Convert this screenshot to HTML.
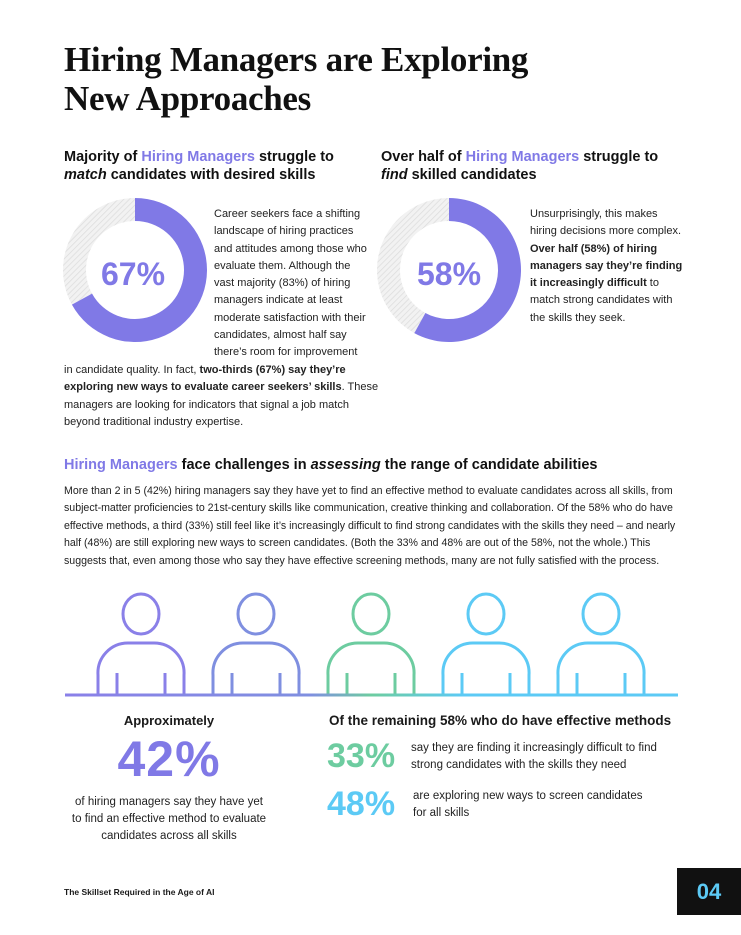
<!DOCTYPE html>
<html><head><meta charset="utf-8">
<style>
*{margin:0;padding:0;box-sizing:border-box}
body{width:741px;height:935px;background:#fff;font-family:"Liberation Sans",sans-serif;color:#1a1a1a;position:relative;overflow:hidden}
.abs{position:absolute}
h1{position:absolute;left:64px;top:40px;font-family:"Liberation Serif",serif;font-size:35px;line-height:39px;font-weight:bold;color:#111;letter-spacing:-0.3px}
h2{position:absolute;font-size:14.5px;line-height:18px;font-weight:bold;color:#111}
.p{color:#8079e6}
.t{font-size:11px;line-height:17.3px;color:#222}
.nw{white-space:nowrap}
.big{font-weight:bold;font-family:"Liberation Sans",sans-serif}
</style></head><body>
<h1>Hiring Managers are Exploring<br>New Approaches</h1>

<h2 style="left:64px;top:148px">Majority of <span class="p">Hiring Managers</span> struggle to<br><i>match</i> candidates with desired skills</h2>
<h2 style="left:381px;top:148px">Over half of <span class="p">Hiring Managers</span> struggle to<br><i>find</i> skilled candidates</h2>

<svg class="abs" style="left:0;top:0" width="741" height="935">
<defs><pattern id="hatch" width="4" height="4" patternUnits="userSpaceOnUse" patternTransform="rotate(45)"><rect width="4" height="4" fill="#f2f2f2"/><line x1="0" y1="0" x2="0" y2="4" stroke="#dcdcdc" stroke-width="1.5"/></pattern></defs>
<g id="d1"></g><g id="d2"></g>
<text x="133" y="285" text-anchor="middle" font-family="Liberation Sans" font-weight="bold" font-size="32" fill="#8079e6">67%</text>
<text x="449" y="285" text-anchor="middle" font-family="Liberation Sans" font-weight="bold" font-size="32" fill="#8079e6">58%</text>
</svg>

<div class="abs t nw" style="left:214px;top:206px">Career seekers face a shifting<br>landscape of hiring practices<br>and attitudes among those who<br>evaluate them. Although the<br>vast majority (83%) of hiring<br>managers indicate at least<br>moderate satisfaction with their<br>candidates, almost half say<br>there’s room for improvement</div>
<div class="abs t nw" style="left:64px;top:362px">in candidate quality. In fact, <b>two-thirds (67%) say they’re</b><br><b>exploring new ways to evaluate career seekers’ skills</b>. These<br>managers are looking for indicators that signal a job match<br>beyond traditional industry expertise.</div>
<div class="abs t nw" style="left:530px;top:206px">Unsurprisingly, this makes<br>hiring decisions more complex.<br><b>Over half (58%) of hiring</b><br><b>managers say they’re finding</b><br><b>it increasingly difficult</b> to<br>match strong candidates with<br>the skills they seek.</div>

<h2 style="left:64px;top:456px"><span class="p">Hiring Managers</span> face challenges in <i>assessing</i> the range of candidate abilities</h2>
<div class="abs t" style="left:64px;top:483px;width:625px;line-height:17.4px;font-size:10.6px">More than 2 in 5 (42%) hiring managers say they have yet to find an effective method to evaluate candidates across all skills, from subject-matter proficiencies to 21st-century skills like communication, creative thinking and collaboration. Of the 58% who do have effective methods, a third (33%) still feel like it’s increasingly difficult to find strong candidates with the skills they need – and nearly half (48%) are still exploring new ways to screen candidates. (Both the 33% and 48% are out of the 58%, not the whole.) This suggests that, even among those who say they have effective screening methods, many are not fully satisfied with the process.</div>

<svg class="abs" style="left:0;top:585px" width="741" height="120">
<defs><linearGradient id="bl" gradientUnits="userSpaceOnUse" x1="65" y1="0" x2="678" y2="0"><stop offset="0" stop-color="#8a80e8"/><stop offset="0.4" stop-color="#7f8fe0"/><stop offset="0.5" stop-color="#6dcca0"/><stop offset="0.65" stop-color="#5ccaf5"/><stop offset="1" stop-color="#5ccaf5"/></linearGradient></defs>
<g id="people"></g>
<rect x="65" y="108.5" width="613" height="3" fill="url(#bl)"/>
</svg>

<div class="abs" style="left:64px;top:713px;width:210px;text-align:center;font-weight:bold;font-size:13px">Approximately</div>
<div class="abs big" style="left:64px;top:730px;width:210px;text-align:center;font-size:50px;color:#8079e6;letter-spacing:1px">42%</div>
<div class="abs t nw" style="left:59px;top:794px;width:220px;text-align:center;line-height:17px;font-size:11.5px">of hiring managers say they have yet<br>to find an effective method to evaluate<br>candidates across all skills</div>

<div class="abs" style="left:329px;top:713px;font-weight:bold;font-size:13.5px">Of the remaining 58% who do have effective methods</div>
<div class="abs big" style="left:327px;top:737px;font-size:34px;color:#6dcca0">33%</div>
<div class="abs t nw" style="left:411px;top:740px;font-size:11.5px">say they are finding it increasingly difficult to find<br>strong candidates with the skills they need</div>
<div class="abs big" style="left:327px;top:785px;font-size:34px;color:#5ccaf5">48%</div>
<div class="abs t nw" style="left:413px;top:788px;font-size:11.5px">are exploring new ways to screen candidates<br>for all skills</div>

<div class="abs" style="left:64px;top:887px;font-size:8.5px;font-weight:bold">The Skillset Required in the Age of AI</div>
<div class="abs" style="left:677px;top:868px;width:64px;height:47px;background:#111;color:#5ccaf5;font-weight:bold;font-size:22px;text-align:center;line-height:47px">04</div>

<script>
const donutLabels=["67%","58%"];
const donutValues=[67,58];
const donutCenters=[[135,270],[449,270]];
const NS="http://www.w3.org/2000/svg";
function arc(cx,cy,ro,ri,a0,a1){
 const p=(r,a)=>[cx+r*Math.sin(a),cy-r*Math.cos(a)];
 const lg=(a1-a0)>Math.PI?1:0;
 const [x0,y0]=p(ro,a0),[x1,y1]=p(ro,a1),[x2,y2]=p(ri,a1),[x3,y3]=p(ri,a0);
 return `M${x0},${y0}A${ro},${ro} 0 ${lg} 1 ${x1},${y1}L${x2},${y2}A${ri},${ri} 0 ${lg} 0 ${x3},${y3}Z`;
}
["d1","d2"].forEach((id,i)=>{
 const g=document.getElementById(id);
 const [cx,cy]=donutCenters[i];
 const a=donutValues[i]/100*2*Math.PI;
 const bg=document.createElementNS(NS,"path");
 bg.setAttribute("d",arc(cx,cy,72,49,a,2*Math.PI-0.0001));
 bg.setAttribute("fill","url(#hatch)");
 
 
 g.appendChild(bg);
 const fg=document.createElementNS(NS,"path");
 fg.setAttribute("d",arc(cx,cy,72,49,0,a));
 fg.setAttribute("fill","#8079e6");
 
 
 g.appendChild(fg);
});
const personColors=["#8a80e8","#7f8fe0","#6dcca0","#5ccaf5","#5ccaf5"];
const pg=document.getElementById("people");
personColors.forEach((c,i)=>{
 const x=141+i*115;
 const g=document.createElementNS(NS,"g");
 
 
 g.setAttribute("fill","none");g.setAttribute("stroke",c);g.setAttribute("stroke-width","3");
 g.innerHTML=`<ellipse cx="${x}" cy="29" rx="18" ry="20"/>
 <path d="M${x-43},110 V90 A30,30 0 0 1 ${x-13},58 H${x+13} A30,30 0 0 1 ${x+43},90 V110"/>
 <line x1="${x-24}" y1="88" x2="${x-24}" y2="110"/><line x1="${x+24}" y1="88" x2="${x+24}" y2="110"/>`;
 pg.appendChild(g);
});
</script>
</body></html>
